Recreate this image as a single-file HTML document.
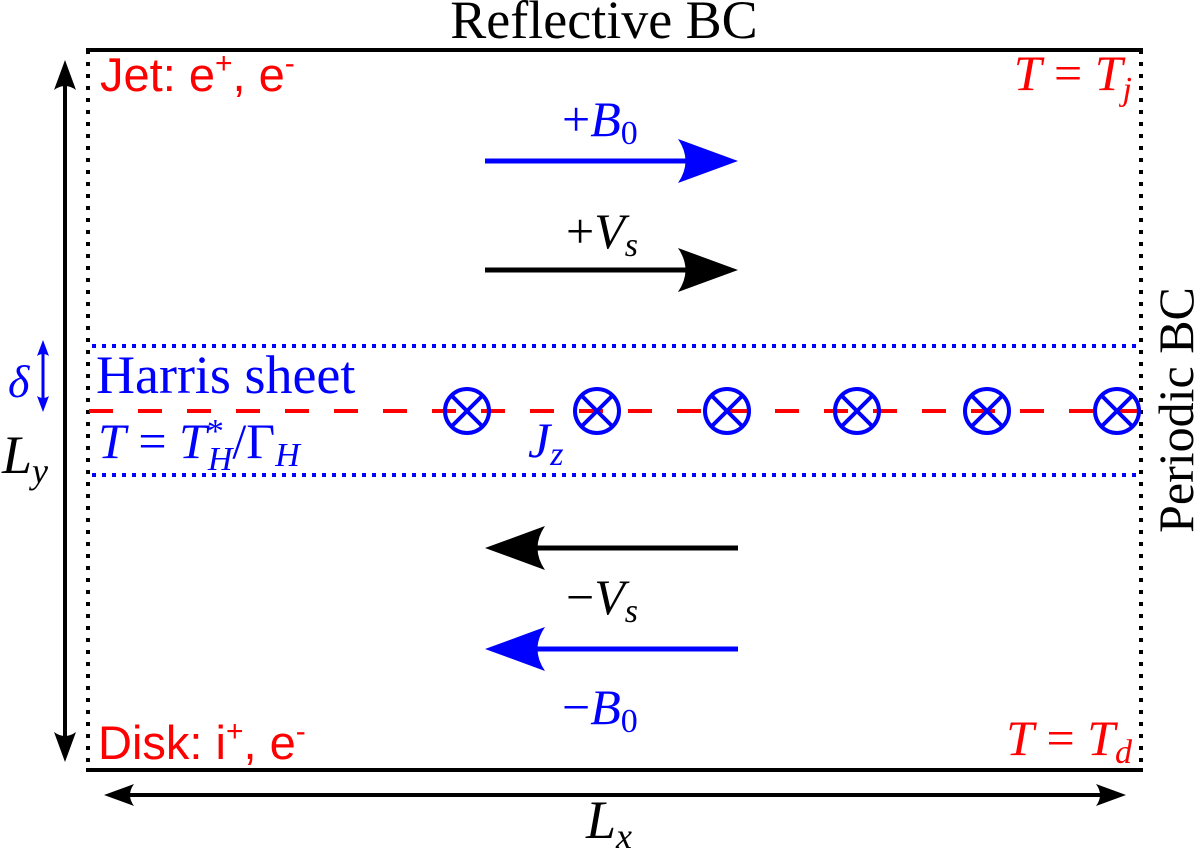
<!DOCTYPE html>
<html><head><meta charset="utf-8"><style>
html,body{margin:0;padding:0;background:#fff;}
svg{display:block;}
text{font-family:"Liberation Serif",serif;}
</style></head><body>
<svg width="1200" height="851" viewBox="0 0 1200 851" xmlns="http://www.w3.org/2000/svg">
<defs>
<path id="ahR" d="M0,0 L-60,-22 Q-45,0 -60,22 Z"/>
</defs>
<line x1="86" y1="50" x2="1143" y2="50" stroke="#000" stroke-width="4"/>
<line x1="86" y1="770" x2="1143" y2="770" stroke="#000" stroke-width="4"/>
<line x1="88" y1="50" x2="88" y2="770" stroke="#000" stroke-width="4" stroke-dasharray="4,8"/>
<line x1="1141" y1="50" x2="1141" y2="770" stroke="#000" stroke-width="4" stroke-dasharray="4,8"/>
<line x1="92" y1="346" x2="1141" y2="346" stroke="#00f" stroke-width="4" stroke-dasharray="4,6"/>
<line x1="92" y1="475" x2="1141" y2="475" stroke="#00f" stroke-width="4" stroke-dasharray="4,6"/>
<line x1="89" y1="411" x2="1141" y2="411" stroke="#f00" stroke-width="4" stroke-dasharray="24,25"/>
<g stroke="#00f" stroke-width="4" fill="none">
<g transform="translate(467,411)"><circle r="22"/><path d="M-15,-15L15,15M-15,15L15,-15"/></g>
<g transform="translate(597,411)"><circle r="22"/><path d="M-15,-15L15,15M-15,15L15,-15"/></g>
<g transform="translate(727,411)"><circle r="22"/><path d="M-15,-15L15,15M-15,15L15,-15"/></g>
<g transform="translate(857,411)"><circle r="22"/><path d="M-15,-15L15,15M-15,15L15,-15"/></g>
<g transform="translate(987,411)"><circle r="22"/><path d="M-15,-15L15,15M-15,15L15,-15"/></g>
<g transform="translate(1117,411)"><circle r="22"/><path d="M-15,-15L15,15M-15,15L15,-15"/></g>
</g>
<line x1="485" y1="161" x2="700" y2="161" stroke="#00f" stroke-width="5"/>
<use href="#ahR" transform="translate(738,161)" fill="#00f"/>
<line x1="485" y1="270" x2="700" y2="270" stroke="#000" stroke-width="5"/>
<use href="#ahR" transform="translate(738,270)" fill="#000"/>
<line x1="520" y1="548" x2="738" y2="548" stroke="#000" stroke-width="5"/>
<use href="#ahR" transform="translate(485,548) scale(-1,1)" fill="#000"/>
<line x1="520" y1="649" x2="738" y2="649" stroke="#00f" stroke-width="5"/>
<use href="#ahR" transform="translate(485,649) scale(-1,1)" fill="#00f"/>
<line x1="65" y1="80" x2="65" y2="740" stroke="#000" stroke-width="4"/>
<path d="M65,60 L54,90 Q65,82 76,90 Z" fill="#000"/>
<path d="M65,762 L54,732 Q65,740 76,732 Z" fill="#000"/>
<line x1="125" y1="795" x2="1105" y2="795" stroke="#000" stroke-width="4"/>
<path d="M104,795 L134,784 Q126,795 134,806 Z" fill="#000"/>
<path d="M1126,795 L1096,784 Q1104,795 1096,806 Z" fill="#000"/>
<line x1="43" y1="350" x2="43" y2="402" stroke="#00f" stroke-width="3"/>
<path d="M43,340 L37,356 Q43,352 49,356 Z" fill="#00f"/>
<path d="M43,412 L37,396 Q43,400 49,396 Z" fill="#00f"/>
<text x="604" y="38" font-size="54" text-anchor="middle">Reflective BC</text>
<text x="1193" y="410" font-size="50" text-anchor="middle" transform="rotate(-90 1193 410)">Periodic BC</text>
<text x="100" y="91" font-size="47" fill="#f00" style="font-family:'Liberation Sans',sans-serif">Jet: e<tspan font-size="30" dy="-18">+</tspan><tspan dy="18">, e</tspan><tspan font-size="30" dy="-18">-</tspan></text>
<text x="98" y="759" font-size="47" fill="#f00" style="font-family:'Liberation Sans',sans-serif">Disk: i<tspan font-size="30" dy="-18">+</tspan><tspan dy="18">, e</tspan><tspan font-size="30" dy="-18">-</tspan></text>
<text x="1132" y="90" font-size="50" fill="#f00" text-anchor="end"><tspan font-style="italic">T</tspan> = <tspan font-style="italic">T</tspan><tspan font-size="34" font-style="italic" dy="10">j</tspan></text>
<text x="1132" y="755" font-size="50" fill="#f00" text-anchor="end"><tspan font-style="italic">T</tspan> = <tspan font-style="italic">T</tspan><tspan font-size="34" font-style="italic" dy="8">d</tspan></text>
<text x="96" y="393" font-size="54" fill="#00f">Harris sheet</text>
<text x="98" y="458" font-size="50" fill="#00f"><tspan font-style="italic">T</tspan> = <tspan font-style="italic">T</tspan><tspan font-size="34" dy="-16">*</tspan><tspan font-size="34" font-style="italic" dx="-16" dy="28">H</tspan><tspan dy="-12">/Γ</tspan><tspan font-size="34" font-style="italic" dy="8">H</tspan></text>
<text x="528" y="457" font-size="50" fill="#00f" font-style="italic">J<tspan font-size="34" dy="8">z</tspan></text>
<text x="562" y="136" font-size="50" fill="#00f">+<tspan font-style="italic">B</tspan><tspan font-size="34" dy="8">0</tspan></text>
<text x="566" y="248" font-size="50" fill="#000">+<tspan font-style="italic">V</tspan><tspan font-size="34" font-style="italic" dy="8">s</tspan></text>
<text x="566" y="614" font-size="50" fill="#000">−<tspan font-style="italic">V</tspan><tspan font-size="34" font-style="italic" dy="8">s</tspan></text>
<text x="562" y="724" font-size="50" fill="#00f">−<tspan font-style="italic">B</tspan><tspan font-size="34" dy="8">0</tspan></text>
<text x="8" y="397" font-size="46" fill="#00f" font-style="italic">δ</text>
<text x="2" y="473" font-size="54" font-style="italic">L<tspan font-size="36" dy="10">y</tspan></text>
<text x="586" y="838" font-size="54" font-style="italic">L<tspan font-size="36" dy="10">x</tspan></text>
</svg>
</body></html>
